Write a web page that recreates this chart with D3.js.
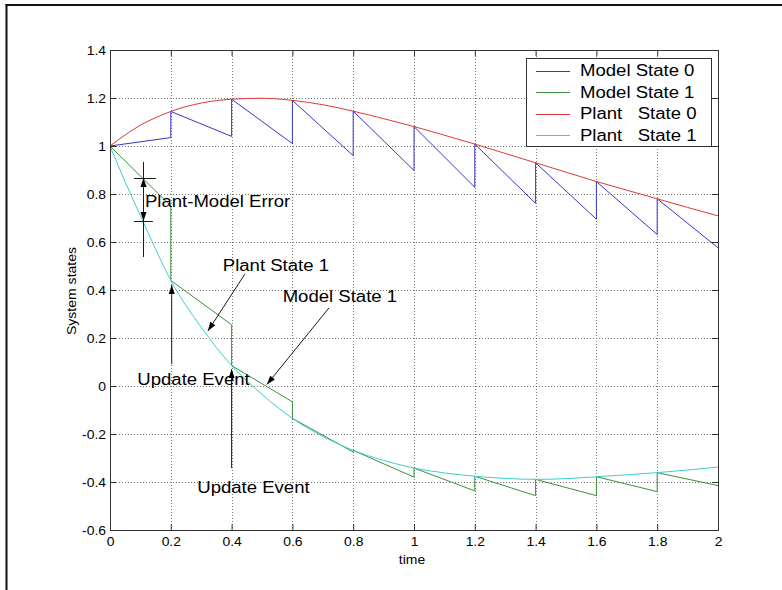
<!DOCTYPE html>
<html>
<head>
<meta charset="utf-8">
<script src="https://cdn.jsdelivr.net/npm/d3@7"></script>
<style>
  html, body { margin: 0; padding: 0; background: #fff; }
  svg { display: block; font-family: Arial, "Liberation Sans", Helvetica, sans-serif; }
</style>
</head>
<body>
<svg id="chart" width="782" height="590"></svg>
<script>
// ---- data ---------------------------------------------------------------
// Sample times for the continuous plant trajectories
const plantTime = [0, 0.05, 0.1, 0.15, 0.2, 0.3, 0.4, 0.5, 0.6, 0.7, 0.8, 0.9,
                   1.0, 1.1, 1.2, 1.3, 1.4, 1.5, 1.6, 1.7, 1.8, 1.9, 2.0];
const plantState0 = [1.0, 1.046, 1.087, 1.118, 1.144, 1.179, 1.195, 1.199, 1.19, 1.172, 1.145, 1.114,
                     1.081, 1.045, 1.008, 0.969, 0.930, 0.891, 0.852, 0.816, 0.780, 0.744, 0.709];
const plantState1 = [1.0, 0.85, 0.71, 0.57, 0.44, 0.245, 0.085, -0.035, -0.135, -0.21, -0.268, -0.31,
                     -0.342, -0.362, -0.376, -0.385, -0.389, -0.386, -0.378, -0.370, -0.361, -0.35, -0.338];

// Model is reset to the plant at each update event, then runs open loop until the next one
const updateTime = [0, 0.2, 0.4, 0.6, 0.8, 1.0, 1.2, 1.4, 1.6, 1.8];
const updatePeriod = 0.2;
const modelState0Reset  = [1.0, 1.144, 1.195, 1.19, 1.145, 1.081, 1.008, 0.930, 0.852, 0.780];
const modelState0Before = [1.035, 1.04, 1.01, 0.96, 0.898, 0.828, 0.761, 0.695, 0.631, 0.576];
const modelState1Reset  = [1.0, 0.44, 0.085, -0.135, -0.268, -0.342, -0.376, -0.389, -0.378, -0.361];
const modelState1Before = [0.75, 0.255, -0.066, -0.275, -0.38, -0.437, -0.457, -0.457, -0.44, -0.415];

const xTicks = [0, 0.2, 0.4, 0.6, 0.8, 1, 1.2, 1.4, 1.6, 1.8, 2];
const xTickLabels = ["0", "0.2", "0.4", "0.6", "0.8", "1", "1.2", "1.4", "1.6", "1.8", "2"];
const yTicks = [-0.6, -0.4, -0.2, 0, 0.2, 0.4, 0.6, 0.8, 1, 1.2, 1.4];
const yTickLabels = ["-0.6", "-0.4", "-0.2", "0", "0.2", "0.4", "0.6", "0.8", "1", "1.2", "1.4"];

const seriesNames = ["Model State 0", "Model State 1", "Plant   State 0", "Plant   State 1"];
const seriesColors = ["#3636c8", "#3c8f3c", "#e03838", "#3ccfcf"];

// Annotation anchors, in data units (time, state)
const errorBar = { t: 0.110, top: 0.933, bottom: 0.5375, upper: 0.867, lower: 0.6875 };
const annotationArrows = [
  { from: [0.203, 0.092], to: [0.203, 0.421] },   // first update event
  { from: [0.400, -0.342], to: [0.400, 0.071] },  // second update event
  { from: [0.444, 0.467], to: [0.322, 0.229] },   // plant state 1
  { from: [0.720, 0.325], to: [0.516, 0.006] }    // model state 1
];
const annotationLabels = [
  { text: "Plant-Model Error", t: 0.115, v: 0.744 },
  { text: "Plant State 1", t: 0.371, v: 0.480 },
  { text: "Model State 1", t: 0.568, v: 0.351 },
  { text: "Update Event", t: 0.0898, v: 0.004 },
  { text: "Update Event", t: 0.287, v: -0.445 }
];

// ---- layout -------------------------------------------------------------
const svg = d3.select("#chart");
const W = 782, H = 590;
const plot = { left: 110, top: 50, right: 718, bottom: 530 };
const STRETCH = 1.16;

const x = d3.scaleLinear().domain([0, 2]).range([plot.left, plot.right]);
const y = d3.scaleLinear().domain([-0.6, 1.4]).range([plot.bottom, plot.top]);

svg.append("rect").attr("width", W).attr("height", H).attr("fill", "#fff");

// figure frame (top and left edges)
svg.append("line").attr("x1", 5.5).attr("x2", W).attr("y1", 5).attr("y2", 5)
  .attr("stroke", "#111").attr("stroke-width", 2);
svg.append("line").attr("x1", 6.5).attr("x2", 6.5).attr("y1", 4).attr("y2", H)
  .attr("stroke", "#111").attr("stroke-width", 2);

function label(sel, px, py, str, size, anchor) {
  return sel.append("text")
    .attr("transform", `translate(${px},${py}) scale(${STRETCH},1)`)
    .attr("text-anchor", anchor || "start")
    .attr("font-size", size)
    .attr("fill", "#000")
    .style("white-space", "pre")
    .text(str);
}

// ---- grid ---------------------------------------------------------------
const grid = svg.append("g").attr("stroke", "#7a7a7a").attr("stroke-width", 1)
  .attr("stroke-dasharray", "1,2");
grid.selectAll("line.gx").data(xTicks.slice(1, -1)).join("line")
  .attr("x1", d => Math.round(x(d)) + 0.5).attr("x2", d => Math.round(x(d)) + 0.5)
  .attr("y1", plot.top).attr("y2", plot.bottom);
grid.selectAll("line.gy").data(yTicks.slice(1, -1)).join("line")
  .attr("y1", d => Math.round(y(d)) + 0.5).attr("y2", d => Math.round(y(d)) + 0.5)
  .attr("x1", plot.left).attr("x2", plot.right);

// ---- series -------------------------------------------------------------
const smooth = d3.line().x(d => x(d[0])).y(d => y(d[1])).curve(d3.curveMonotoneX);
const straight = d3.line().x(d => x(d[0])).y(d => y(d[1]));

function modelPath(reset, before) {
  const pts = [];
  updateTime.forEach((t, i) => {
    pts.push([t, reset[i]]);
    pts.push([t + updatePeriod, before[i]]);
  });
  return pts;
}

const lines = svg.append("g").attr("fill", "none").attr("stroke-width", 1);
lines.append("path").attr("d", straight(modelPath(modelState1Reset, modelState1Before)))
  .attr("stroke", seriesColors[1]);
lines.append("path").attr("d", smooth(plantTime.map((t, i) => [t, plantState1[i]])))
  .attr("stroke", seriesColors[3]);
lines.append("path").attr("d", straight(modelPath(modelState0Reset, modelState0Before)))
  .attr("stroke", seriesColors[0]);
lines.append("path").attr("d", smooth(plantTime.map((t, i) => [t, plantState0[i]])))
  .attr("stroke", seriesColors[2]);

// ---- axes ---------------------------------------------------------------
const axisColor = "#333";
function styleAxis(g) {
  g.select(".domain").remove();
  g.selectAll(".tick line").attr("stroke", axisColor);
}
svg.append("g").attr("transform", `translate(0,${plot.bottom})`)
  .call(d3.axisBottom(x).tickValues(xTicks).tickSizeInner(-6).tickSizeOuter(0)
    .tickFormat((d, i) => xTickLabels[i]))
  .call(styleAxis)
  .call(g => g.selectAll(".tick text")
    .attr("y", null).attr("dy", null).attr("font-size", 12).attr("fill", "#000")
    .attr("font-family", null)
    .attr("transform", `translate(0,15.5) scale(${STRETCH},1)`));
svg.append("g").attr("transform", `translate(0,${plot.top})`)
  .call(d3.axisTop(x).tickValues(xTicks).tickSizeInner(-6).tickSizeOuter(0).tickFormat(""))
  .call(styleAxis);
svg.append("g").attr("transform", `translate(${plot.left},0)`)
  .call(d3.axisLeft(y).tickValues(yTicks).tickSizeInner(-6).tickSizeOuter(0)
    .tickFormat((d, i) => yTickLabels[i]))
  .call(styleAxis)
  .call(g => g.selectAll(".tick text")
    .attr("x", null).attr("dy", null).attr("font-size", 12).attr("fill", "#000")
    .attr("font-family", null)
    .attr("transform", `translate(-4,4.2) scale(${STRETCH},1)`));
svg.append("g").attr("transform", `translate(${plot.right},0)`)
  .call(d3.axisRight(y).tickValues(yTicks).tickSizeInner(-6).tickSizeOuter(0).tickFormat(""))
  .call(styleAxis);

svg.append("rect")
  .attr("x", plot.left + 0.5).attr("y", plot.top + 0.5)
  .attr("width", plot.right - plot.left).attr("height", plot.bottom - plot.top)
  .attr("fill", "none").attr("stroke", axisColor);

label(svg, 412, 564, "time", 12, "middle");
svg.append("text")
  .attr("transform", `translate(76,291) rotate(-90) scale(1.17,1)`)
  .attr("text-anchor", "middle").attr("font-size", 12).attr("fill", "#000")
  .text("System states");

// ---- annotations --------------------------------------------------------
const ann = svg.append("g");
const inkColor = "#1a1a1a";

function arrowHead(tip, from, len, halfW) {
  const dx = tip[0] - from[0], dy = tip[1] - from[1];
  const d = Math.hypot(dx, dy), ux = dx / d, uy = dy / d;
  const bx = tip[0] - ux * len, by = tip[1] - uy * len;
  const pts = [tip, [bx - uy * halfW, by + ux * halfW], [bx + uy * halfW, by - ux * halfW]];
  ann.append("path").attr("d", "M" + pts.map(p => p.join(",")).join("L") + "Z")
    .attr("fill", "#000");
}

// plant-model error dimension marker
const ex = Math.round(x(errorBar.t)) + 0.5;
ann.append("line").attr("x1", ex).attr("x2", ex)
  .attr("y1", y(errorBar.top)).attr("y2", y(errorBar.bottom))
  .attr("stroke", inkColor);
[[errorBar.upper, 0.079, 0.151], [errorBar.lower, 0.079, 0.141]].forEach(b => {
  ann.append("line").attr("x1", x(b[1])).attr("x2", x(b[2]))
    .attr("y1", Math.round(y(b[0])) + 0.5).attr("y2", Math.round(y(b[0])) + 0.5)
    .attr("stroke", inkColor);
});
const midY = (y(errorBar.upper) + y(errorBar.lower)) / 2;
arrowHead([ex, y(errorBar.upper)], [ex, midY], 9, 3);
arrowHead([ex, y(errorBar.lower)], [ex, midY], 9, 3);

annotationArrows.forEach(a => {
  const p0 = [x(a.from[0]), y(a.from[1])], p1 = [x(a.to[0]), y(a.to[1])];
  ann.append("line").attr("x1", p0[0]).attr("y1", p0[1]).attr("x2", p1[0]).attr("y2", p1[1])
    .attr("stroke", inkColor);
  arrowHead(p1, p0, 9, 3);
});

annotationLabels.forEach(a => label(ann, x(a.t), y(a.v), a.text, 16, "start"));

// ---- legend -------------------------------------------------------------
const legend = svg.append("g");
legend.append("rect").attr("x", 526.5).attr("y", 58.5).attr("width", 185).attr("height", 88)
  .attr("fill", "#fff").attr("stroke", axisColor);
const rowY = d3.scalePoint().domain(d3.range(seriesNames.length)).range([70.5, 135]);
seriesNames.forEach((name, i) => {
  const ry = rowY(i);
  legend.append("line").attr("x1", 536).attr("x2", 570)
    .attr("y1", Math.round(ry) + 0.5).attr("y2", Math.round(ry) + 0.5)
    .attr("stroke", seriesColors[i]);
  label(legend, 580, ry + 5.8, name, 16, "start");
});
</script>
</body>
</html>
